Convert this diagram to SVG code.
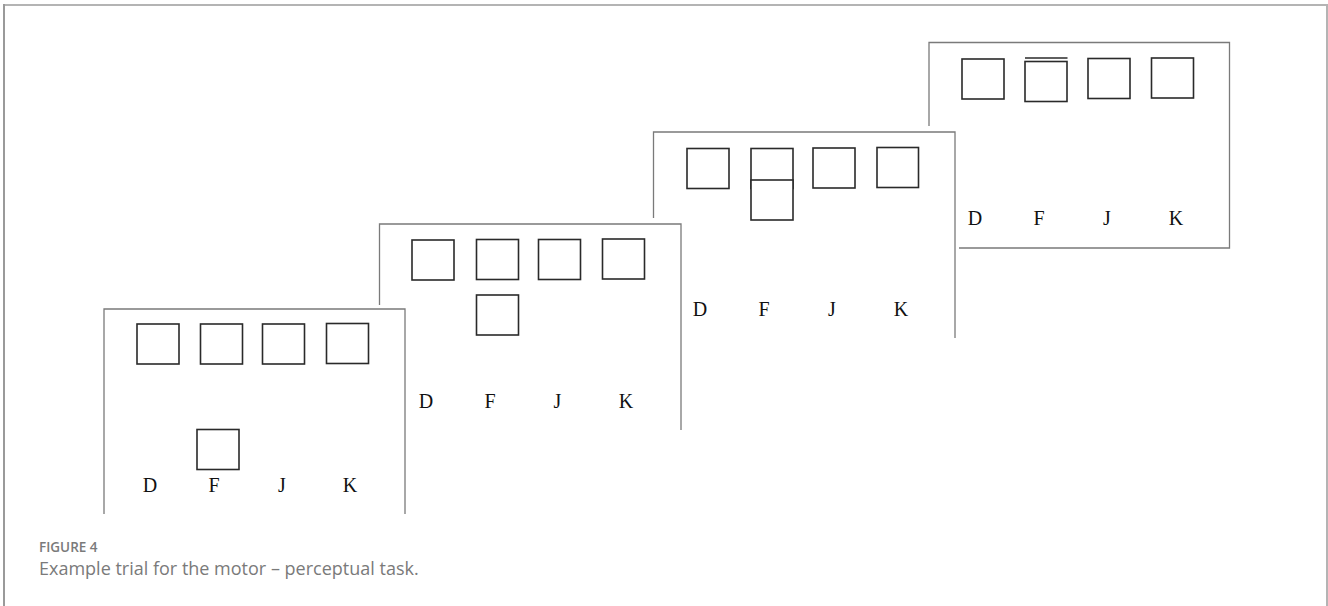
<svg xmlns="http://www.w3.org/2000/svg" width="1328" height="606" viewBox="0 0 1328 606">
<style>
.frame{stroke:#b4b4b4;stroke-width:2;fill:none}
.pe{stroke:#7a7a7a;stroke-width:1.3;fill:none}
.sq{stroke:#2a2a2a;stroke-width:1.6;fill:#fff}
.key{font-family:"Liberation Serif",serif;font-size:20px;fill:#111;text-anchor:middle}
.cap1{font-family:"Open Sans","Noto Sans",sans-serif;font-size:13.5px;font-weight:600;fill:#7a7a7a}
.cap2{font-family:"Open Sans","Noto Sans",sans-serif;font-size:18px;fill:#7a7a7a}
</style>
<g id="frame">
<line class="frame" x1="4" y1="5" x2="1328" y2="5"/>
<line class="frame" x1="4" y1="4" x2="4" y2="606" style="stroke:#9a9a9a"/>
<line class="frame" x1="1327" y1="4" x2="1327" y2="606"/>
</g>
<g id="panel4">
<path class="pe" d="M929,126 V42.5 H1229.5 V248 H959"/>
<rect class="sq" x="962" y="59" width="42" height="40"/>
<line x1="1025" y1="58" x2="1067.5" y2="58" stroke="#2a2a2a" stroke-width="1.6"/>
<rect class="sq" x="1025" y="61.5" width="42" height="40"/>
<rect class="sq" x="1088" y="58.5" width="42" height="40"/>
<rect class="sq" x="1151.5" y="58" width="42" height="40"/>
<text class="key" x="975" y="225">D</text>
<text class="key" x="1039" y="225">F</text>
<text class="key" x="1107" y="225">J</text>
<text class="key" x="1176" y="225">K</text>
</g>
<g id="panel3">
<path class="pe" d="M653.5,218 V132 H955 V338"/>
<rect class="sq" x="687" y="148.5" width="42" height="40"/>
<rect class="sq" x="751" y="148.5" width="42" height="40"/>
<rect class="sq" x="751" y="180" width="42" height="40"/>
<rect class="sq" x="813" y="148" width="42" height="40"/>
<rect class="sq" x="877" y="147.5" width="41.5" height="40"/>
<text class="key" x="700" y="315.5">D</text>
<text class="key" x="764" y="315.5">F</text>
<text class="key" x="832" y="315.5">J</text>
<text class="key" x="901" y="315.5">K</text>
</g>
<g id="panel2">
<path class="pe" d="M379.5,305 V224 H681 V430"/>
<rect class="sq" x="412" y="240" width="42" height="40"/>
<rect class="sq" x="476.5" y="239.5" width="42" height="40"/>
<rect class="sq" x="538.5" y="239.5" width="42" height="40"/>
<rect class="sq" x="602.5" y="239" width="42" height="40"/>
<rect class="sq" x="476.5" y="295" width="42" height="40"/>
<text class="key" x="426" y="407.5">D</text>
<text class="key" x="490" y="407.5">F</text>
<text class="key" x="557.5" y="407.5">J</text>
<text class="key" x="626" y="407.5">K</text>
</g>
<g id="panel1">
<path class="pe" d="M104,514 V309 H405 V514"/>
<rect class="sq" x="137" y="324" width="42" height="40"/>
<rect class="sq" x="200.5" y="324" width="42" height="40"/>
<rect class="sq" x="262.5" y="324" width="42" height="40"/>
<rect class="sq" x="326.5" y="323.5" width="42" height="40"/>
<rect class="sq" x="197" y="429.5" width="42" height="40"/>
<text class="key" x="150" y="492">D</text>
<text class="key" x="214" y="492">F</text>
<text class="key" x="282" y="492">J</text>
<text class="key" x="350" y="492">K</text>
</g>
<g id="connectors"></g>
<g id="caption">
<text class="cap1" x="39" y="552">FIGURE 4</text>
<text class="cap2" x="39" y="575">Example trial for the motor – perceptual task.</text>
</g>
</svg>
